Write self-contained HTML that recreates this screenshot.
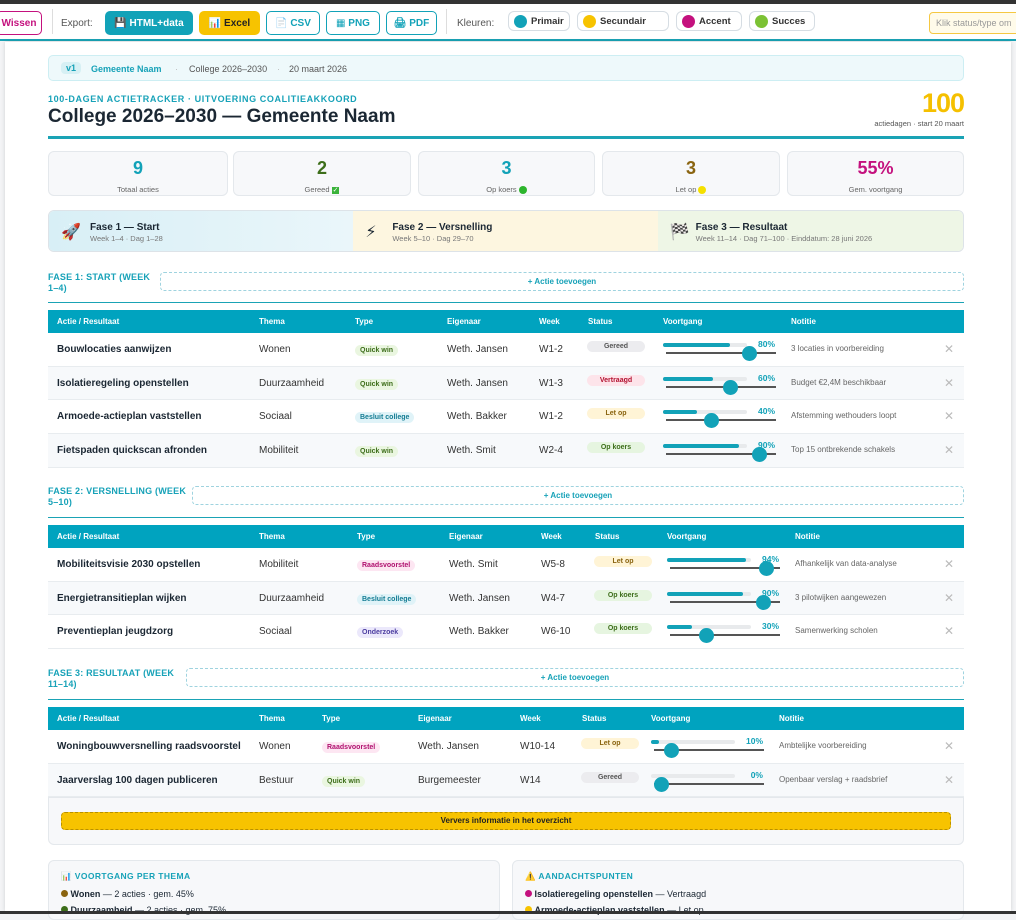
<!DOCTYPE html>
<html><head><meta charset="utf-8">
<style>
*{box-sizing:border-box;margin:0;padding:0}
body{width:1016px;height:914px;overflow:hidden;background:#f3f4f6;font-family:"Liberation Sans","DejaVu Sans",sans-serif;position:relative;color:#1b2733}
.a{position:absolute}
.topbar{left:0;top:0;width:1016px;height:4px;background:#333}
.botbar{left:0;top:911px;width:1016px;height:3px;background:#333}
.tool{left:0;top:4px;width:1016px;height:37px;background:#fff;border-bottom:2px solid #1aa3b5}
.btn{position:absolute;top:11px;height:24px;border-radius:5px;font-size:10px;font-weight:bold;display:flex;align-items:center;justify-content:center;gap:3px}
.pill{position:absolute;top:11px;height:20px;border-radius:6px;border:1px solid #d6dde3;font-size:9.5px;font-weight:bold;display:flex;align-items:center;gap:4px;padding-left:5px;color:#333}
.dot{width:13px;height:13px;border-radius:50%;display:inline-block}
.page{left:5px;top:42px;width:1006px;height:869px;background:#fff;box-shadow:0 0 4px rgba(0,0,0,.15)}
.card{position:absolute;top:151px;height:45px;background:#f7f8fa;border:1px solid #e4e8ec;border-radius:6px;text-align:center}
.card b{display:block;font-size:18px;margin-top:6px}
.card span{font-size:7.5px;color:#666}
.sec{position:absolute;left:48px;font-size:9px;font-weight:bold;color:#17a2b8;line-height:11px;letter-spacing:.2px}
.add{position:absolute;height:19px;border:1px dashed #9fd3df;border-radius:4px;font-size:8px;font-weight:bold;color:#17a2b8;text-align:center;line-height:17px;right:52px}
.hl{position:absolute;left:48px;width:916px;height:1px;background:#1aa3b5}
.th{position:absolute;left:48px;width:916px;height:23px;background:#00a3bf}
.th span{position:absolute;top:7px;font-size:8px;font-weight:bold;color:#fff}
.row{position:absolute;left:48px;width:916px;border-bottom:1px solid #e8ecef;background:#fff}
.row.alt{background:#f7f9fb}
.row span{position:absolute;font-size:10px;white-space:nowrap}
.tag{font-size:7px!important;font-weight:bold;padding:2px 5px;border-radius:7px}
.st{font-size:7px!important;font-weight:bold;width:58px;text-align:center;padding:2px 0;border-radius:7px}
.panel{position:absolute;top:860px;height:60px;background:#f7f8fa;border:1px solid #e4e8ec;border-radius:6px}
</style></head><body>
<div class="a topbar"></div>
<div class="a tool">
 <div class="btn" style="left:-4px;width:46px;border:1px solid #c4117e;color:#c4117e;top:7px">Wissen</div>
 <div class="a" style="left:52px;top:5px;width:1px;height:25px;background:#ddd"></div>
 <div class="a" style="left:61px;top:14px;font-size:10px;color:#555">Export:</div>
 <div class="btn" style="left:105px;width:88px;top:7px;background:#12a2b8;color:#fff">💾 HTML+data</div>
 <div class="btn" style="left:199px;width:61px;top:7px;background:#f7c300;color:#222">📊 Excel</div>
 <div class="btn" style="left:266px;width:54px;top:7px;border:1px solid #12a2b8;color:#12a2b8">📄 CSV</div>
 <div class="btn" style="left:326px;width:54px;top:7px;border:1px solid #12a2b8;color:#12a2b8">▦ PNG</div>
 <div class="btn" style="left:386px;width:51px;top:7px;border:1px solid #12a2b8;color:#12a2b8">🖨 PDF</div>
 <div class="a" style="left:446px;top:5px;width:1px;height:25px;background:#ddd"></div>
 <div class="a" style="left:457px;top:14px;font-size:10px;color:#555">Kleuren:</div>
 <div class="pill" style="left:508px;width:62px;top:7px"><i class="dot" style="background:#12a2b8"></i>Primair</div>
 <div class="pill" style="left:577px;width:92px;top:7px"><i class="dot" style="background:#f7c300"></i>Secundair</div>
 <div class="pill" style="left:676px;width:66px;top:7px"><i class="dot" style="background:#c4117e"></i>Accent</div>
 <div class="pill" style="left:749px;width:66px;top:7px"><i class="dot" style="background:#7cc234"></i>Succes</div>
 <div class="a" style="left:929px;top:8px;width:100px;height:22px;border:1px solid #f5c842;border-radius:4px;background:#fffbea;font-size:9px;color:#999;padding:5px 6px;white-space:nowrap;overflow:hidden">Klik status/type om</div>
</div>
<div class="a page"></div>

<div class="a" style="left:48px;top:55px;width:916px;height:26px;background:#eef9fb;border:1px solid #cdeef3;border-radius:5px;font-size:9px;color:#555">
 <span class="a" style="left:12px;top:6px;background:#d6f0f4;color:#17a2b8;font-weight:bold;padding:1px 5px;border-radius:4px">v1</span>
 <span class="a" style="left:42px;top:8px;color:#17a2b8;font-weight:bold">Gemeente Naam</span>
 <span class="a" style="left:126px;top:8px;color:#bbb">·</span>
 <span class="a" style="left:140px;top:8px">College 2026–2030</span>
 <span class="a" style="left:228px;top:8px;color:#bbb">·</span>
 <span class="a" style="left:240px;top:8px">20 maart 2026</span>
</div>
<div class="a" style="left:48px;top:94px;font-size:9px;font-weight:bold;color:#17a2b8;letter-spacing:.6px">100-DAGEN ACTIETRACKER · UITVOERING COALITIEAKKOORD</div>
<div class="a" style="left:48px;top:106px;font-size:19px;font-weight:bold;color:#1b2733">College 2026–2030 — Gemeente Naam</div>
<div class="a" style="left:920px;top:88px;width:44px;text-align:right;font-size:27px;font-weight:bold;color:#f5c000;letter-spacing:-1px">100</div>
<div class="a" style="left:820px;top:119px;width:144px;text-align:right;font-size:7.5px;color:#555">actiedagen · start 20 maart</div>
<div class="a" style="left:48px;top:136px;width:916px;height:3px;background:#1aa3b5"></div>

<div class="card" style="left:48px;width:180px"><b style="color:#12a2b8">9</b><span>Totaal acties</span></div>
<div class="card" style="left:233px;width:178px"><b style="color:#3d6e1a">2</b><span>Gereed <i style="font-style:normal;background:#3bb33b;color:#fff;font-size:7px;padding:0 1px">✓</i></span></div>
<div class="card" style="left:418px;width:177px"><b style="color:#12a2b8">3</b><span>Op koers <i class="dot" style="width:8px;height:8px;background:#2db52d;vertical-align:middle"></i></span></div>
<div class="card" style="left:602px;width:178px"><b style="color:#8a6410">3</b><span>Let op <i class="dot" style="width:8px;height:8px;background:#f5e000;vertical-align:middle"></i></span></div>
<div class="card" style="left:787px;width:177px"><b style="color:#c4117e">55%</b><span>Gem. voortgang</span></div>

<div class="a" style="left:48px;top:210px;width:916px;height:42px;border:1px solid #dde3e8;border-radius:6px;overflow:hidden;display:flex">
 <div style="width:305px;background:linear-gradient(90deg,#d8eff6,#eaf6fa);position:relative"><span class="a" style="left:12px;top:11px;font-size:16px">🚀</span><span class="a" style="left:41px;top:11px;font-size:10px;font-weight:bold">Fase 1 — Start</span><span class="a" style="left:41px;top:23px;font-size:7.5px;color:#777">Week 1–4 · Dag 1–28</span></div>
 <div style="width:305px;background:#fdf6e0;position:relative"><span class="a" style="left:12px;top:11px;font-size:16px">⚡</span><span class="a" style="left:39px;top:11px;font-size:10px;font-weight:bold">Fase 2 — Versnelling</span><span class="a" style="left:39px;top:23px;font-size:7.5px;color:#777">Week 5–10 · Dag 29–70</span></div>
 <div style="width:306px;background:#eef6e6;position:relative"><span class="a" style="left:12px;top:11px;font-size:16px">🏁</span><span class="a" style="left:38px;top:11px;font-size:10px;font-weight:bold">Fase 3 — Resultaat</span><span class="a" style="left:38px;top:23px;font-size:7.5px;color:#777">Week 11–14 · Dag 71–100 · Einddatum: 28 juni 2026</span></div>
</div>

<div id="tables"></div>

<div class="a" style="left:48px;top:797px;width:916px;height:48px;background:#f7f8fa;border:1px solid #e4e8ec;border-radius:0 0 6px 6px"></div>
<div class="a" style="left:61px;top:812px;width:890px;height:18px;background:#f7c300;border:1px dashed #b89000;border-radius:4px;font-size:8px;font-weight:bold;text-align:center;line-height:16px;color:#222">Ververs informatie in het overzicht</div>

<div class="panel" style="left:48px;width:452px">
 <div class="a" style="left:12px;top:10px;font-size:8.5px;font-weight:bold;color:#17a2b8;letter-spacing:.4px">📊 VOORTGANG PER THEMA</div>
 <div class="a" style="left:12px;top:28px;font-size:9px;white-space:nowrap"><i class="dot" style="width:7px;height:7px;background:#8a6410"></i> <b>Wonen</b> — 2 acties · gem. 45%</div>
 <div class="a" style="left:12px;top:44px;font-size:9px;white-space:nowrap"><i class="dot" style="width:7px;height:7px;background:#3d6e1a"></i> <b>Duurzaamheid</b> — 2 acties · gem. 75%</div>
</div>
<div class="panel" style="left:512px;width:452px">
 <div class="a" style="left:12px;top:10px;font-size:8.5px;font-weight:bold;color:#17a2b8;letter-spacing:.4px">⚠️ AANDACHTSPUNTEN</div>
 <div class="a" style="left:12px;top:28px;font-size:9px;white-space:nowrap"><i class="dot" style="width:7px;height:7px;background:#c4117e"></i> <b>Isolatieregeling openstellen</b> — Vertraagd</div>
 <div class="a" style="left:12px;top:44px;font-size:9px;white-space:nowrap"><i class="dot" style="width:7px;height:7px;background:#f7c300"></i> <b>Armoede-actieplan vaststellen</b> — Let op</div>
</div>
<div class="a botbar"></div>

<script>
const phaseTitles=["FASE 1: START (WEEK<br>1–4)","FASE 2: VERSNELLING (WEEK<br>5–10)","FASE 3: RESULTAAT (WEEK<br>11–14)"];
const actions=[["Bouwlocaties aanwijzen","Isolatieregeling openstellen","Armoede-actieplan vaststellen","Fietspaden quickscan afronden"],["Mobiliteitsvisie 2030 opstellen","Energietransitieplan wijken","Preventieplan jeugdzorg"],["Woningbouwversnelling raadsvoorstel","Jaarverslag 100 dagen publiceren"]];
const themes=[["Wonen","Duurzaamheid","Sociaal","Mobiliteit"],["Mobiliteit","Duurzaamheid","Sociaal"],["Wonen","Bestuur"]];
const types=[["Quick win","Quick win","Besluit college","Quick win"],["Raadsvoorstel","Besluit college","Onderzoek"],["Raadsvoorstel","Quick win"]];
const owners=[["Weth. Jansen","Weth. Jansen","Weth. Bakker","Weth. Smit"],["Weth. Smit","Weth. Jansen","Weth. Bakker"],["Weth. Jansen","Burgemeester"]];
const weeks=[["W1-2","W1-3","W1-2","W2-4"],["W5-8","W4-7","W6-10"],["W10-14","W14"]];
const statuses=[["Gereed","Vertraagd","Let op","Op koers"],["Let op","Op koers","Op koers"],["Let op","Gereed"]];
const progress=[[80,60,40,90],[94,90,30],[10,0]];
const notes=[["3 locaties in voorbereiding","Budget €2,4M beschikbaar","Afstemming wethouders loopt","Top 15 ontbrekende schakels"],["Afhankelijk van data-analyse","3 pilotwijken aangewezen","Samenwerking scholen"],["Ambtelijke voorbereiding","Openbaar verslag + raadsbrief"]];
const headers=["Actie / Resultaat","Thema","Type","Eigenaar","Week","Status","Voortgang","Notitie"];

const secTop=[272,486,668], addLeft=[160,192,186], ruleTop=[302,517,699], headTop=[310,525,707];
const colX=[[9,211,307,399,491,540,615,743],[9,211,309,401,493,547,619,747],[9,211,274,370,472,534,603,731]];
const rowH=33.7;
const typeStyle={"Quick win":["#eaf6e0","#3d6e1a"],"Besluit college":["#e0f3f8","#137c93"],"Raadsvoorstel":["#fde6f2","#b0106f"],"Onderzoek":["#ebe8fb","#4b3ca0"]};
const statusStyle={"Gereed":["#ececef","#555"],"Vertraagd":["#fde4ea","#b3102f"],"Let op":["#fff4d6","#8a6410"],"Op koers":["#e6f5e0","#3d6e1a"]};
const root=document.getElementById('tables');
function mk(cls,style,html){const d=document.createElement('div');d.className=cls;if(style)d.style.cssText=style;if(html!=null)d.innerHTML=html;root.appendChild(d);return d;}
for(let t=0;t<3;t++){
  const s=mk('sec','top:'+secTop[t]+'px',phaseTitles[t]);
  
  
  const ad=mk('add','top:'+secTop[t]+'px;left:'+addLeft[t]+'px','+ Actie toevoegen');
  
  
  const hl=mk('hl','top:'+ruleTop[t]+'px');
  
  
  const th=mk('th','top:'+headTop[t]+'px','');
  
  
  headers.forEach((h,i)=>{const sp=document.createElement('span');sp.style.left=colX[t][i]+'px';sp.textContent=h;th.appendChild(sp);});
  const cx=colX[t];
  for(let r=0;r<actions[t].length;r++){
    const top=headTop[t]+23+r*rowH;
    const row=mk('row'+(r%2?' alt':''),'top:'+top+'px;height:'+rowH+'px','');
    
    
    const ts=typeStyle[types[t][r]], ss=statusStyle[statuses[t][r]], p=progress[t][r];
    const px=cx[6];
    row.innerHTML=
      '<span style="left:'+cx[0]+'px;top:11px;font-weight:bold">'+actions[t][r]+'</span>'+
      '<span style="left:'+cx[1]+'px;top:11px;color:#333">'+themes[t][r]+'</span>'+
      '<span class="tag" style="left:'+cx[2]+'px;top:12px;background:'+ts[0]+';color:'+ts[1]+'">'+types[t][r]+'</span>'+
      '<span style="left:'+cx[3]+'px;top:11px;color:#333">'+owners[t][r]+'</span>'+
      '<span style="left:'+cx[4]+'px;top:11px;color:#333">'+weeks[t][r]+'</span>'+
      '<span class="st" style="left:'+(cx[5]-1)+'px;top:8px;background:'+ss[0]+';color:'+ss[1]+'">'+statuses[t][r]+'</span>'+
      '<span style="left:'+px+'px;top:10px;width:84px;height:4px;background:#e8eaec;border-radius:2px"></span>'+
      '<span style="left:'+px+'px;top:10px;width:'+(p*0.84)+'px;height:4px;background:#12a2b8;border-radius:2px"></span>'+
      '<span style="left:'+(px+3)+'px;top:19px;width:110px;height:2px;background:#555"></span>'+
      '<span style="left:'+(px+3+p*0.95)+'px;top:13px;width:15px;height:15px;background:#12a2b8;border-radius:50%"></span>'+
      '<span style="left:'+(px+80)+'px;top:6px;width:32px;text-align:right;font-size:8.5px;font-weight:bold;color:#12a2b8">'+p+'%</span>'+
      '<span style="left:'+cx[7]+'px;top:11px;font-size:8px;color:#666">'+notes[t][r]+'</span>'+
      '<span style="left:896px;top:9px;font-size:12px;color:#bbb">✕</span>';
  }
}
</script>
</body></html>
